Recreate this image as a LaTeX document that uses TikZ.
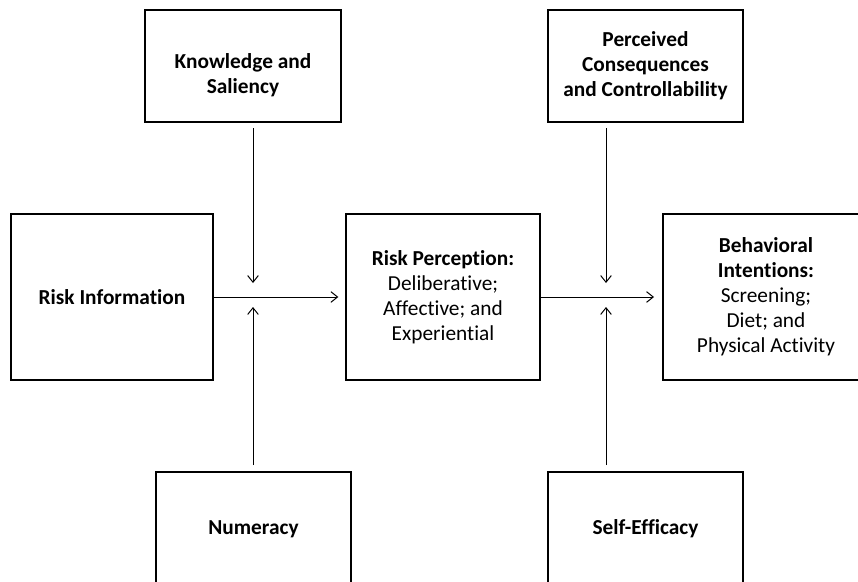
\documentclass[tikz,border=0pt]{standalone}
\usepackage{fontspec}
\setmainfont{Carlito}[Ligatures=NoCommon]
\usetikzlibrary{arrows.meta}
\begin{document}
\begin{tikzpicture}[
x=0.75pt, y=-0.75pt,
factor/.style={rectangle, draw, line width=1.5pt, align=center, inner sep=0pt,
  font=\fontsize{16}{18.8}\selectfont},
moderator/.style={factor, minimum width=146.5pt, minimum height=84pt},
stage/.style={factor, minimum height=124.5pt},
link/.style={-{Straight Barb[length=5pt,width=8pt]}, line width=0.75pt}
]
\useasboundingbox (0,0) rectangle (858,582);
\clip (0,0) rectangle (858,582);
\node[moderator] (know) at (243,66) {\rule{0pt}{25pt}\textbf{Knowledge and}\\\textbf{Saliency}};
\node[moderator] (perc) at (645.5,66) {\textbf{Perceived}\\\textbf{Consequences}\\\textbf{and Controllability}};
\node[stage, minimum width=151.5pt] (info) at (112,297) {\textbf{Risk Information}};
\node[stage, minimum width=145.5pt] (riskp) at (443,297) {\textbf{Risk Perception:}\\Deliberative;\\Affective; and\\Experiential};
\node[stage, minimum width=154.5pt] (behav) at (766,297) {\textbf{Behavioral}\\\textbf{Intentions:}\\Screening;\\Diet; and\\Physical Activity};
\node[moderator, minimum height=85.5pt] (numer) at (253.5,529) {\textbf{Numeracy}};
\node[moderator, minimum height=85.5pt] (selfe) at (645.5,529) {\textbf{Self-Efficacy}};
\coordinate (j1) at (253,297);
\coordinate (j2) at (606,297);
\draw[link, shorten <=4pt] (know.south -| j1) -- ([yshift=10.5pt]j1);
\draw[link, shorten <=4.5pt] (numer.north -| j1) -- ([yshift=-7.5pt]j1);
\draw[link, shorten >=5pt] (info.east) -- (riskp.west);
\draw[link, shorten <=4pt] (perc.south -| j2) -- ([yshift=10.5pt]j2);
\draw[link, shorten <=4.5pt] (selfe.north -| j2) -- ([yshift=-7.5pt]j2);
\draw[link, shorten >=6pt] (riskp.east) -- (behav.west);
\end{tikzpicture}
\end{document}
